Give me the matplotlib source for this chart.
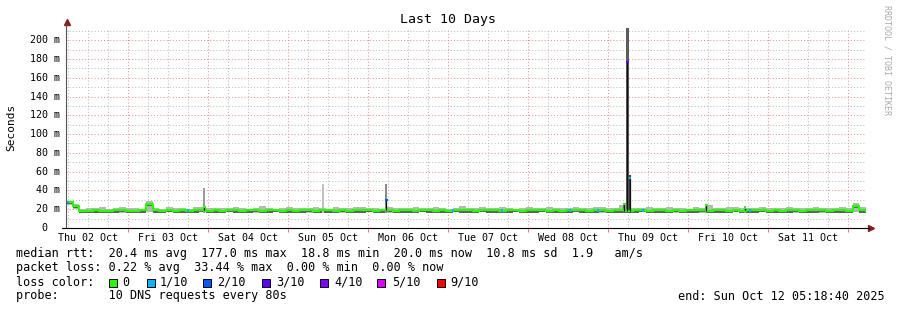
import numpy as np
import matplotlib
matplotlib.use("Agg")
import matplotlib.pyplot as plt
from matplotlib.patches import Rectangle
from matplotlib.transforms import blended_transform_factory

# Data (hours since start Thu 02 Oct 05:18:40, 2 h per sample)
median = [
    27.5, 23.5, 18.6, 18.5, 18.8, 18.6, 18.4, 18.7, 18.9, 18.5,
    18.6, 18.8, 25.5, 18.7, 18.5, 18.9, 18.6, 18.8, 18.5, 18.7,
    18.9, 18.6, 18.8, 18.6, 18.9, 18.7, 18.5, 18.8, 19.0, 18.6,
    18.7, 18.9, 18.6, 18.8, 18.5, 18.7, 18.9, 18.6, 18.8, 18.7,
    18.5, 18.9, 18.6, 18.8, 18.7, 19.0, 18.6, 18.8, 18.9, 18.5,
    18.7, 18.8, 18.6, 18.9, 18.7, 18.5, 18.8, 18.6, 18.9, 18.7,
    18.8, 18.6, 18.9, 18.7, 18.8, 18.5, 18.7, 18.9, 18.6, 18.8,
    18.7, 18.9, 18.6, 18.8, 18.5, 18.7, 18.9, 18.8, 18.6, 18.7,
    18.9, 18.6, 18.8, 18.7, 18.5, 18.7, 18.9, 18.6, 18.8, 18.7,
    18.5, 18.9, 18.6, 18.8, 18.7, 18.9, 18.6, 18.8, 18.7, 18.5,
    18.9, 18.6, 18.8, 18.7, 18.9, 18.6, 18.8, 18.5, 18.7, 18.9,
    18.6, 18.8, 18.7, 18.9, 18.6, 18.8, 18.7, 18.5, 23.5, 18.8,
    18.6]

smoke_hi = [
    29.0, 26.0, 20.5, 21.5, 20.8, 22.0, 20.6, 21.2, 22.3, 20.9,
    21.4, 20.7, 28.5, 21.0, 20.6, 22.1, 20.8, 21.5, 20.7, 21.9,
    22.6, 21.1, 20.9, 21.6, 20.8, 22.0, 21.3, 20.7, 21.8, 22.9,
    21.0, 20.6, 21.7, 22.4, 20.9, 21.3, 20.8, 22.0, 21.2, 20.7,
    22.6, 21.1, 20.8, 21.9, 22.3, 20.9, 21.5, 20.7, 22.8, 21.2,
    20.9, 21.6, 22.0, 20.8, 21.4, 22.5, 21.0, 20.7, 21.8, 23.5,
    21.2, 20.9, 22.1, 21.4, 20.8, 22.0, 21.6, 20.7, 21.3, 22.4,
    20.9, 21.7, 22.6, 21.0, 20.8, 21.5, 22.2, 20.9, 21.3, 21.9,
    22.7, 21.1, 20.8, 24.0, 21.2, 21.6, 20.8, 22.1, 21.4, 20.9,
    22.5, 21.0, 21.8, 20.7, 22.3, 21.4, 25.0, 21.2, 20.8, 21.9,
    22.4, 21.0, 21.6, 20.8, 22.6, 21.3, 20.9, 21.8, 22.2, 21.0,
    20.8, 21.7, 22.5, 21.1, 21.4, 20.9, 22.0, 21.5, 27.0, 22.0,
    21.0]

smoke_lo = [
    24.5, 20.0, 16.8, 16.4, 17.0, 16.6, 16.3, 16.9, 16.5, 16.7,
    16.4, 16.9, 17.5, 16.6, 16.3, 16.8, 16.5, 16.9, 16.4, 16.7,
    16.6, 16.3, 16.9, 16.5, 16.8, 16.4, 16.7, 16.9, 16.5, 16.3,
    16.8, 16.6, 16.4, 16.9, 16.5, 16.7, 16.3, 16.8, 16.6, 16.4,
    16.9, 16.5, 16.7, 16.3, 16.8, 16.6, 16.9, 16.4, 16.5, 16.7,
    16.3, 16.8, 16.6, 16.9, 16.4, 16.7, 16.5, 16.3, 16.8, 16.6,
    16.9, 16.4, 16.7, 16.5, 16.8, 16.3, 16.6, 16.9, 16.4, 16.7,
    16.5, 16.8, 16.3, 16.6, 16.9, 16.4, 16.7, 16.5, 16.8, 16.6,
    16.3, 16.9, 16.5, 16.4, 16.7, 16.6, 16.8, 16.3, 16.9, 16.5,
    16.7, 16.4, 16.6, 16.8, 16.5, 16.3, 17.0, 16.7, 16.4, 16.9,
    16.6, 16.8, 16.3, 16.5, 16.7, 16.9, 16.4, 16.6, 16.8, 16.5,
    16.3, 16.7, 16.9, 16.4, 16.6, 16.8, 16.5, 16.7, 17.0, 16.6,
    16.8]

# short events
spike_hours = [41.5, 77.0, 96.1, 167.5, 168.4, 169.1, 192.1, 203.7]
spike_top = [43.0, 47.0, 47.0, 27.0, 213.0, 56.0, 25.0, 23.0]
spike_med = [22.0, 19.0, 30.0, 25.5, 177.0, 53.0, 24.0, 21.5]
spike_width = [0.6, 0.6, 0.6, 0.6, 1.1, 0.7, 0.6, 0.6]
spike_gray = ['#9a9a9a', '#c0c0c0', '#8a8a8a', '#707070', '#5c5c5c', '#3c3c3c', '#9a9a9a', '#9a9a9a']
spike_loss = ['#26ff00', '#26ff00', '#0059ff', '#26ff00', '#5e00ff', '#00b8ff', '#26ff00', '#26ff00']

loss_hours = [0.7, 36.7, 116.0, 130.8, 151.2, 159.5, 173.0, 205.3]
loss_vals = [27.5, 18.6, 18.6, 18.7, 18.6, 18.7, 18.6, 18.6]
loss_cols = ['#00b8ff'] * 8

day_labels = ['Thu 02 Oct', 'Fri 03 Oct', 'Sat 04 Oct', 'Sun 05 Oct', 'Mon 06 Oct',
              'Tue 07 Oct', 'Wed 08 Oct', 'Thu 09 Oct', 'Fri 10 Oct', 'Sat 11 Oct']
first_midnight = 18.689  # Fri 03 Oct 00:00 in hours from start

legend_labels = ['0', '1/10', '2/10', '3/10', '4/10', '5/10', '9/10']
legend_colors = ['#26ff00', '#00b8ff', '#0059ff', '#5e00ff', '#7e00ff', '#dd00ff', '#ff0000']

W, H = 897, 310
mono = 'DejaVu Sans Mono'
fig = plt.figure(figsize=(W / 100, H / 100), dpi=100)
ax = fig.add_axes([66 / W, 82 / H, 800 / W, 200 / H])
ax.set_xlim(0, 240)
ax.set_ylim(0, 213)

hours = np.arange(len(median)) * 2.0
med = np.array(median)

# grid
midnights = first_midnight + 24 * np.arange(10)
quarters = (first_midnight % 6) + 6 * np.arange(40)
ax.set_xticks(midnights)
ax.set_xticks(quarters, minor=True)
ax.set_yticks(np.arange(0, 201, 20))
ax.set_yticks(np.arange(0, 211, 10), minor=True)
ax.xaxis.grid(True, which='minor', color='#bdbdbd', ls=(0, (1, 2)), lw=0.75)
ax.yaxis.grid(True, which='minor', color='#bdbdbd', ls=(0, (1, 2)), lw=0.75)
ax.xaxis.grid(True, which='major', color='#f29090', ls=(0, (1, 2)), lw=0.75)
ax.yaxis.grid(True, which='major', color='#f29090', ls=(0, (1, 2)), lw=0.75)
ax.set_axisbelow(True)
ax.tick_params(which='both', labelbottom=False, labelleft=False, length=0)
ax.tick_params(axis='x', which='major', length=3, color='#f08080', direction='out')
for s in ax.spines.values():
    s.set_visible(False)

# smoke
ax.fill_between(hours, smoke_lo, smoke_hi, step='post', color='#b8b8b8', lw=0, zorder=2)
ax.fill_between(hours, med - 2.3, med - 0.9, step='post', color='#5e5e5e', lw=0, zorder=3)
ax.bar(spike_hours, np.array(spike_top) - 16.5, bottom=16.5, width=spike_width,
       color=spike_gray, zorder=3, align='center')

# median coloured by loss
ax.step(hours, median, where='post', color='#26ff00', lw=1.6, zorder=5)
base = np.interp(spike_hours, hours, med)
ax.vlines(spike_hours, base, spike_med, color='#111111', lw=0.9, zorder=6)
ax.hlines(spike_med, np.array(spike_hours) - 0.35, np.array(spike_hours) + 0.35,
          colors=spike_loss, lw=1.6, zorder=7)
ax.scatter(loss_hours, loss_vals, marker='s', s=2.5, c=loss_cols, lw=0, zorder=7)

# axes lines with arrows
ax.plot([0, 0], [0, 1.02], transform=ax.transAxes, color='#555555', lw=0.8, clip_on=False, zorder=8)
ax.plot([-0.005, 1.004], [0, 0], transform=ax.transAxes, color='black', lw=0.8, clip_on=False, zorder=8)
ax.plot([0.0012], [1.03], marker='^', ms=4, color='#8b1c1c', transform=ax.transAxes, clip_on=False)
ax.plot([1.006], [0], marker='>', ms=4, color='#8b1c1c', transform=ax.transAxes, clip_on=False)

# tick labels
ty = blended_transform_factory(fig.transFigure, ax.transData)
for v in range(0, 201, 20):
    lab = '%3d m' % v if v > 0 else '  0'
    ax.text(30 / W, v, lab, transform=ty, family=mono, size=7.2, ha='left', va='center')
tx = blended_transform_factory(ax.transData, fig.transFigure)
for i, lab in enumerate(day_labels):
    ax.text(midnights[i] - 12, 1 - 238 / H, lab, transform=tx, family=mono, size=7.2,
            ha='center', va='center')

fig.text(448 / W, 1 - 20 / H, 'Last 10 Days', family=mono, size=9.5, ha='center', va='center')
fig.text(11 / W, 1 - 127 / H, 'Seconds', family=mono, size=8, rotation=90, ha='center', va='center')
fig.text(887 / W, 1 - 5 / H, 'RRDTOOL / TOBI OETIKER', family=mono, size=6, rotation=270,
         ha='center', va='top', color='#aaaaaa')

# legend block
fig.text(16 / W, 1 - 254 / H,
         'median rtt:  20.4 ms avg  177.0 ms max  18.8 ms min  20.0 ms now  10.8 ms sd  1.9   am/s',
         family=mono, size=8.5, va='center')
fig.text(16 / W, 1 - 268 / H,
         'packet loss: 0.22 % avg  33.44 % max  0.00 % min  0.00 % now',
         family=mono, size=8.5, va='center')
fig.text(16 / W, 1 - 282 / H, 'loss color:', family=mono, size=8.5, va='center')
sq_x = [109, 147, 203, 262, 320, 377, 437]
lab_x = [122, 160, 217, 276, 334, 392, 450]
for sx, lx, lab, c in zip(sq_x, lab_x, legend_labels, legend_colors):
    fig.add_artist(Rectangle((sx / W, (H - 287) / H), 8 / W, 8 / H, transform=fig.transFigure,
                             facecolor=c, edgecolor='black', lw=0.7))
    fig.text(lx / W, 1 - 282 / H, lab, family=mono, size=8.5, va='center')
fig.text(16 / W, 1 - 296 / H, 'probe:       10 DNS requests every 80s', family=mono, size=8.5, va='center')
fig.text(678 / W, 1 - 296 / H, 'end: Sun Oct 12 05:18:40 2025', family=mono, size=8.5, va='center')

fig.savefig('out.png', dpi=100)
